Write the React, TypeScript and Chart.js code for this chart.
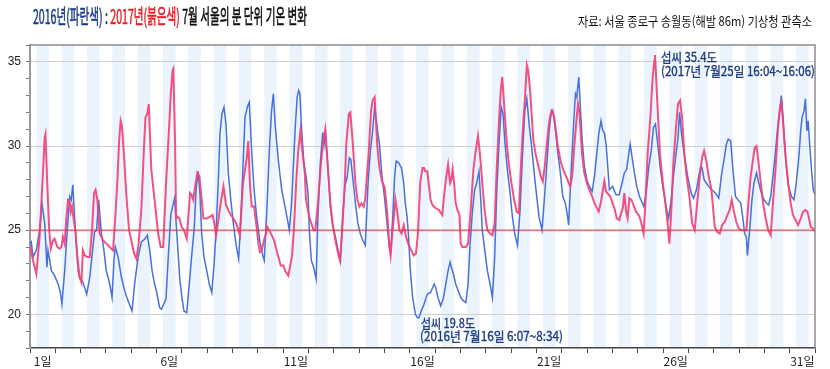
import React, { useEffect, useLayoutEffect, useRef } from 'react';
import { Chart, registerables } from 'chart.js';

Chart.register(...registerables);

// time in days since 1 July 00:00, temperature in °C
const t2016 = [
  0.00, 0.05, 0.12, 0.25, 0.38, 0.47, 0.58, 0.67, 0.71, 0.78, 0.84, 0.97, 1.11, 1.20, 1.26, 1.37, 1.47, 1.57, 1.63, 1.69,
  1.76, 1.83, 1.90, 1.96, 2.09, 2.24, 2.36, 2.49, 2.55, 2.63, 2.71, 2.82, 2.92, 3.01, 3.15, 3.24, 3.32, 3.37, 3.48, 3.61,
  3.74, 3.87, 4.03, 4.13, 4.27, 4.40, 4.55, 4.63, 4.73, 4.82, 4.92, 4.99, 5.12, 5.19, 5.37, 5.46, 5.56, 5.63, 5.71, 5.79,
  5.86, 5.92, 6.00, 6.08, 6.19, 6.29, 6.38, 6.48, 6.56, 6.64, 6.71, 6.78, 6.87, 6.98, 7.08, 7.18, 7.27, 7.35, 7.44, 7.50,
  7.58, 7.66, 7.74, 7.83, 7.93, 8.03, 8.14, 8.24, 8.33, 8.43, 8.49, 8.58, 8.66, 8.76, 8.85, 8.95, 9.08, 9.19, 9.25, 9.35,
  9.45, 9.54, 9.61, 9.69, 9.81, 9.94, 10.07, 10.17, 10.24, 10.33, 10.47, 10.55, 10.61, 10.66, 10.72, 10.81, 10.90, 10.98, 11.03, 11.11,
  11.20, 11.30, 11.37, 11.47, 11.56, 11.61, 11.66, 11.77, 11.86, 11.95, 12.06, 12.17, 12.26, 12.35, 12.43, 12.52, 12.61, 12.67, 12.74, 12.85,
  12.95, 13.04, 13.14, 13.24, 13.35, 13.44, 13.53, 13.61, 13.71, 13.80, 13.90, 14.01, 14.10, 14.19, 14.24, 14.32, 14.40, 14.46, 14.56, 14.67,
  14.76, 14.82, 14.89, 14.95, 15.02, 15.11, 15.22, 15.30, 15.36, 15.45, 15.56, 15.69, 15.82, 15.96, 16.02, 16.11, 16.22, 16.33, 16.42, 16.51,
  16.59, 16.64, 16.72, 16.81, 16.91, 17.01, 17.12, 17.21, 17.30, 17.38, 17.47, 17.56, 17.64, 17.73, 17.80, 17.86, 17.96, 18.06, 18.17, 18.26,
  18.35, 18.43, 18.52, 18.61, 18.68, 18.75, 18.85, 18.96, 19.05, 19.14, 19.25, 19.35, 19.45, 19.54, 19.62, 19.71, 19.80, 19.91, 20.01, 20.10,
  20.22, 20.30, 20.41, 20.50, 20.59, 20.67, 20.76, 20.84, 20.93, 21.04, 21.14, 21.23, 21.27, 21.37, 21.46, 21.54, 21.59, 21.67, 21.72, 21.80,
  21.89, 21.99, 22.09, 22.20, 22.29, 22.38, 22.46, 22.55, 22.62, 22.68, 22.75, 22.81, 22.88, 23.01, 23.14, 23.27, 23.38, 23.47, 23.56, 23.70,
  23.78, 23.87, 23.96, 24.07, 24.24, 24.33, 24.44, 24.53, 24.62, 24.70, 24.79, 24.88, 24.99, 25.12, 25.22, 25.32, 25.41, 25.51, 25.59, 25.65,
  25.71, 25.78, 25.88, 25.97, 26.11, 26.20, 26.32, 26.41, 26.49, 26.54, 26.62, 26.71, 26.80, 26.91, 27.01, 27.11, 27.20, 27.30, 27.41, 27.50,
  27.57, 27.67, 27.76, 27.86, 27.96, 28.07, 28.16, 28.22, 28.29, 28.33, 28.42, 28.51, 28.59, 28.69, 28.78, 28.88, 28.99, 29.09, 29.17, 29.25,
  29.34, 29.44, 29.54, 29.62, 29.67, 29.74, 29.80, 29.88, 29.96, 30.07, 30.17, 30.26, 30.36, 30.44, 30.49, 30.57, 30.62, 30.68, 30.73, 30.79,
  30.86, 30.93, 31.00,
];
const v2016 = [
  24.2, 24.3, 23.4, 23.8, 25.0, 26.6, 25.4, 22.8, 23.8, 23.2, 22.6, 22.3, 21.8, 21.3, 20.6, 22.6, 25.0, 27.0, 26.8, 27.7,
  25.8, 24.1, 22.6, 22.2, 21.9, 21.2, 22.2, 24.1, 24.9, 25.0, 26.8, 24.8, 23.8, 22.6, 21.8, 21.0, 23.3, 24.0, 23.4, 22.2,
  21.4, 20.8, 20.2, 21.8, 23.4, 24.3, 24.5, 24.7, 23.8, 22.6, 21.8, 21.4, 20.4, 20.3, 20.9, 23.4, 25.9, 26.4, 26.9, 25.0,
  23.4, 22.0, 21.0, 20.2, 20.1, 21.8, 23.4, 25.0, 27.4, 28.5, 27.2, 24.8, 23.4, 22.6, 21.8, 21.3, 23.0, 25.0, 28.1, 30.7,
  31.9, 32.3, 31.3, 28.4, 26.8, 25.4, 24.1, 23.3, 25.8, 29.5, 31.7, 32.3, 32.6, 29.5, 27.4, 25.8, 24.3, 23.5, 23.2, 26.1,
  29.7, 32.1, 33.1, 31.1, 29.1, 27.4, 26.4, 25.6, 25.0, 26.6, 31.0, 32.9, 33.3, 33.1, 31.1, 29.1, 28.2, 27.2, 25.0, 23.2,
  22.8, 22.1, 25.8, 29.1, 30.8, 30.1, 30.9, 28.6, 26.4, 25.3, 24.6, 23.8, 23.2, 25.8, 27.6, 28.1, 29.3, 29.2, 28.2, 26.6,
  25.4, 24.8, 24.4, 24.1, 27.8, 29.7, 30.9, 32.3, 31.1, 30.1, 28.2, 26.8, 25.4, 24.0, 23.7, 25.6, 28.2, 29.1, 29.0, 28.7,
  27.8, 26.6, 25.8, 24.6, 22.6, 21.0, 20.0, 19.8, 19.8, 20.2, 20.6, 21.2, 21.3, 21.8, 21.6, 21.0, 20.5, 21.0, 21.8, 22.6,
  23.1, 22.8, 22.4, 21.8, 21.4, 21.0, 20.8, 20.7, 21.8, 24.2, 26.1, 27.4, 27.8, 28.5, 26.8, 25.0, 23.8, 22.6, 21.8, 21.0,
  23.4, 27.2, 30.1, 32.3, 31.9, 30.3, 28.6, 27.2, 25.8, 24.8, 24.1, 26.1, 29.5, 32.1, 32.8, 31.3, 30.1, 28.4, 27.0, 25.8,
  25.0, 26.6, 28.9, 30.9, 32.1, 31.9, 30.8, 29.6, 28.6, 27.0, 26.6, 25.8, 25.3, 28.5, 31.1, 33.1, 32.9, 34.1, 32.7, 30.5,
  28.8, 28.0, 27.6, 27.3, 28.2, 29.5, 30.7, 31.5, 30.9, 30.8, 30.1, 28.9, 27.4, 27.6, 27.1, 27.1, 27.8, 28.4, 28.6, 30.1,
  29.3, 28.4, 27.6, 27.0, 26.4, 27.2, 28.8, 29.7, 31.1, 31.3, 30.1, 28.8, 27.6, 26.4, 25.7, 26.8, 28.2, 29.5, 30.5, 32.0,
  31.0, 30.1, 29.1, 28.2, 27.2, 26.9, 27.4, 28.2, 28.8, 28.7, 28.0, 27.8, 27.6, 27.4, 27.3, 27.1, 26.9, 28.2, 29.2, 30.1,
  30.4, 30.3, 28.6, 27.0, 26.8, 26.6, 25.6, 24.8, 24.6, 23.5, 25.0, 26.8, 27.8, 28.4, 27.8, 27.2, 26.8, 26.6, 26.5, 27.0,
  28.2, 29.7, 31.3, 32.3, 33.0, 31.7, 30.1, 28.6, 27.6, 27.0, 26.8, 27.8, 29.3, 31.0, 31.7, 32.1, 32.8, 30.9, 31.5, 30.1,
  28.6, 27.4, 27.1,
];

const t2017 = [
  0.00, 0.12, 0.25, 0.38, 0.47, 0.58, 0.61, 0.68, 0.76, 0.82, 0.91, 0.97, 1.08, 1.17, 1.24, 1.30, 1.37, 1.43, 1.50, 1.57,
  1.61, 1.66, 1.71, 1.79, 1.87, 1.96, 2.03, 2.09, 2.16, 2.26, 2.36, 2.45, 2.53, 2.59, 2.66, 2.75, 2.88, 3.01, 3.15, 3.28,
  3.37, 3.45, 3.52, 3.58, 3.63, 3.71, 3.80, 3.91, 4.00, 4.11, 4.20, 4.29, 4.40, 4.50, 4.56, 4.63, 4.69, 4.79, 4.92, 5.06,
  5.16, 5.26, 5.38, 5.50, 5.56, 5.63, 5.66, 5.73, 5.77, 5.82, 5.90, 5.99, 6.08, 6.19, 6.32, 6.38, 6.45, 6.52, 6.61, 6.69,
  6.78, 6.85, 6.98, 7.11, 7.21, 7.28, 7.35, 7.44, 7.53, 7.64, 7.74, 7.83, 7.93, 8.03, 8.14, 8.23, 8.29, 8.40, 8.49, 8.56,
  8.62, 8.69, 8.76, 8.85, 8.95, 9.02, 9.08, 9.15, 9.24, 9.32, 9.37, 9.48, 9.64, 9.72, 9.81, 9.90, 10.01, 10.07, 10.20, 10.29,
  10.35, 10.42, 10.51, 10.59, 10.68, 10.77, 10.85, 10.90, 11.01, 11.11, 11.20, 11.27, 11.37, 11.47, 11.56, 11.66, 11.77, 11.86, 11.95, 12.06,
  12.17, 12.24, 12.32, 12.42, 12.49, 12.59, 12.65, 12.74, 12.85, 12.93, 13.01, 13.09, 13.18, 13.24, 13.37, 13.47, 13.53, 13.61, 13.71, 13.80,
  13.90, 14.01, 14.10, 14.19, 14.24, 14.32, 14.43, 14.51, 14.59, 14.67, 14.76, 14.85, 14.96, 15.06, 15.15, 15.24, 15.32, 15.41, 15.50, 15.56,
  15.61, 15.69, 15.74, 15.82, 15.89, 16.02, 16.15, 16.28, 16.35, 16.43, 16.51, 16.59, 16.64, 16.69, 16.75, 16.81, 16.88, 16.96, 17.01, 17.08,
  17.21, 17.30, 17.40, 17.51, 17.60, 17.69, 17.77, 17.87, 17.96, 18.06, 18.17, 18.26, 18.35, 18.43, 18.52, 18.59, 18.65, 18.72, 18.83, 18.92,
  19.01, 19.12, 19.22, 19.31, 19.38, 19.46, 19.54, 19.62, 19.67, 19.75, 19.80, 19.88, 19.97, 20.06, 20.17, 20.25, 20.33, 20.41, 20.49, 20.56,
  20.64, 20.72, 20.80, 20.84, 20.97, 21.06, 21.17, 21.33, 21.41, 21.50, 21.59, 21.64, 21.70, 21.80, 21.89, 21.99, 22.09, 22.20, 22.29, 22.46,
  22.55, 22.68, 22.75, 22.91, 23.08, 23.17, 23.27, 23.34, 23.41, 23.47, 23.54, 23.60, 23.67, 23.75, 23.83, 23.93, 24.04, 24.13, 24.23, 24.30,
  24.39, 24.49, 24.59, 24.66, 24.68, 24.72, 24.79, 24.88, 24.99, 25.09, 25.18, 25.25, 25.32, 25.41, 25.51, 25.59, 25.67, 25.75, 25.84, 25.93,
  26.04, 26.15, 26.25, 26.36, 26.45, 26.54, 26.62, 26.71, 26.80, 26.91, 26.97, 27.04, 27.14, 27.24, 27.33, 27.44, 27.54, 27.63, 27.71, 27.80,
  27.89, 27.99, 28.09, 28.29, 28.38, 28.46, 28.56, 28.62, 28.69, 28.75, 28.86, 28.95, 29.04, 29.15, 29.25, 29.34, 29.44, 29.54, 29.62, 29.67,
  29.74, 29.83, 29.94, 30.04, 30.13, 30.23, 30.33, 30.44, 30.53, 30.62, 30.70, 30.75, 30.83, 30.92, 31.00,
];
const v2017 = [
  24.1, 23.2, 22.4, 24.6, 27.2, 30.5, 30.7, 27.8, 25.0, 23.9, 24.4, 24.5, 24.0, 23.9, 24.0, 24.6, 24.2, 25.6, 26.8, 26.7,
  26.1, 26.4, 25.8, 25.0, 23.4, 22.2, 21.9, 23.8, 23.5, 23.4, 23.4, 25.0, 27.2, 27.4, 26.8, 24.8, 24.4, 24.2, 24.0, 23.8,
  25.8, 27.9, 30.3, 31.5, 31.2, 29.5, 27.2, 25.0, 24.4, 23.6, 23.3, 24.2, 26.3, 29.9, 31.7, 31.9, 32.5, 28.6, 26.8, 24.8,
  24.0, 24.0, 28.0, 31.3, 33.1, 34.5, 34.6, 30.1, 25.7, 25.8, 25.7, 25.2, 25.0, 24.5, 27.2, 27.1, 26.8, 27.6, 28.4, 28.2,
  26.8, 25.7, 25.7, 25.8, 25.9, 25.4, 24.7, 25.6, 26.6, 27.6, 26.5, 26.2, 25.9, 25.7, 25.4, 25.0, 24.7, 27.6, 28.6, 29.3,
  30.3, 27.6, 26.4, 26.4, 25.2, 24.2, 23.7, 23.8, 24.4, 24.8, 25.2, 24.9, 24.4, 23.9, 23.4, 22.9, 22.9, 22.6, 22.3, 23.0,
  23.5, 25.0, 27.8, 29.7, 30.9, 29.5, 28.4, 26.8, 25.9, 25.4, 25.0, 25.0, 26.6, 28.6, 30.1, 31.0, 28.6, 26.6, 25.4, 24.4,
  23.6, 23.2, 24.8, 27.4, 30.1, 31.9, 32.0, 30.3, 27.8, 26.8, 26.4, 26.6, 26.4, 26.9, 29.5, 32.1, 32.7, 32.9, 30.1, 28.7,
  27.9, 27.5, 26.1, 24.1, 23.5, 25.0, 26.8, 26.0, 25.0, 24.8, 25.3, 24.6, 24.1, 23.8, 23.5, 23.6, 24.8, 27.8, 28.7, 28.7,
  28.5, 28.5, 27.8, 26.8, 26.5, 26.3, 26.2, 25.9, 27.0, 28.1, 28.9, 27.8, 28.0, 28.6, 27.8, 26.6, 26.2, 25.9, 24.2, 24.0,
  24.0, 24.2, 26.1, 28.6, 29.7, 30.6, 29.5, 27.6, 26.1, 25.0, 24.8, 24.7, 25.4, 28.6, 31.5, 33.3, 34.1, 32.5, 30.1, 28.8,
  27.8, 26.8, 26.1, 26.0, 28.6, 30.9, 32.7, 34.8, 34.5, 33.3, 32.1, 30.3, 29.5, 28.9, 28.2, 27.9, 28.8, 30.1, 31.3, 31.9,
  32.1, 31.5, 30.5, 30.0, 29.0, 28.6, 28.2, 27.6, 28.2, 30.1, 31.7, 32.5, 32.0, 29.5, 28.4, 27.8, 27.4, 27.0, 26.6, 26.1,
  26.7, 27.9, 27.3, 27.0, 26.3, 25.7, 25.6, 26.0, 26.3, 27.2, 26.1, 25.7, 26.9, 26.8, 26.5, 26.1, 25.9, 25.5, 24.8, 26.5,
  29.5, 31.5, 34.1, 35.1, 35.4, 34.3, 32.1, 29.5, 27.8, 26.6, 25.4, 24.2, 26.0, 29.1, 31.1, 32.5, 32.7, 31.7, 29.5, 28.2,
  27.0, 25.4, 25.0, 26.8, 28.2, 29.3, 29.7, 29.1, 28.2, 27.4, 26.4, 25.2, 24.9, 24.8, 25.3, 25.5, 25.9, 26.2, 26.8, 26.1,
  25.5, 25.1, 25.0, 25.0, 26.8, 28.2, 29.3, 29.9, 30.0, 29.3, 27.8, 26.6, 25.8, 25.0, 24.7, 26.6, 28.6, 31.1, 32.3, 32.6,
  31.4, 29.5, 27.8, 26.6, 25.9, 25.6, 25.3, 25.7, 26.1, 26.2, 26.1, 25.8, 25.2, 25.1, 24.9,
];

const DAYS = 31;
const Y_MIN = 18;
const Y_MAX = 36;
const REF_TEMP = 25;
const labelDays = [1, 6, 11, 16, 21, 26, 31];

const BLUE = 'rgba(62,104,220,0.95)';
const PINK = 'rgba(242,66,118,0.92)';
const NAVY = '#1c3b7e';
const KFONT = '"Noto Sans CJK KR", "Noto Sans", sans-serif';

const toPts = (ts: number[], vs: number[]) => ts.map((t, i) => ({ x: t, y: vs[i] }));

const framePlugin = {
  id: 'frame',
  beforeDraw(chart: any) {
    const { ctx, chartArea: a, scales } = chart;
    const xs = scales.x;
    ctx.save();
    ctx.fillStyle = 'rgba(218,234,252,0.55)';
    for (let d = 0; d < DAYS; d++) {
      const x0 = xs.getPixelForValue(d + 0.25);
      const x1 = xs.getPixelForValue(d + 0.75);
      ctx.fillRect(x0, a.top, x1 - x0, a.bottom - a.top);
    }
    ctx.restore();
  },
  afterDraw(chart: any) {
    const { ctx, chartArea: a } = chart;
    ctx.save();
    ctx.strokeStyle = '#8a8a8a';
    ctx.lineWidth = 1.5;
    ctx.beginPath();
    ctx.moveTo(a.left, a.top);
    ctx.lineTo(a.right, a.top);
    ctx.lineTo(a.right, a.bottom);
    ctx.stroke();
    ctx.restore();
  },
};

function FitText(props: { left: number; top: number; width: number; size: number; color?: string; weight?: any; stroke?: number; children: any }) {
  const ref = useRef<HTMLDivElement>(null);
  useLayoutEffect(() => {
    const fit = () => {
      const el = ref.current;
      if (!el) return;
      el.style.transform = 'none';
      const w = el.getBoundingClientRect().width;
      if (w > 0) el.style.transform = `scaleX(${props.width / w})`;
    };
    fit();
    (document as any).fonts?.ready?.then(fit);
  });
  const style: any = {
    position: 'absolute',
    left: props.left,
    top: props.top,
    fontSize: props.size,
    lineHeight: props.size + 'px',
    whiteSpace: 'nowrap',
    transformOrigin: '0 0',
    fontFamily: KFONT,
    color: props.color || '#111',
    fontWeight: props.weight || 'normal',
  };
  if (props.stroke) style.WebkitTextStroke = `${props.stroke}px currentColor`;
  return (
    <div ref={ref} style={style}>
      {props.children}
    </div>
  );
}

export default function App() {
  const canvasRef = useRef<HTMLCanvasElement>(null);

  useEffect(() => {
    document.body.style.margin = '0';
    const canvas = canvasRef.current;
    if (!canvas) return;
    const chart = new Chart(canvas, {
      type: 'line',
      data: {
        datasets: [
          {
            label: '25도',
            data: [{ x: 0, y: REF_TEMP }, { x: DAYS, y: REF_TEMP }],
            borderColor: 'rgba(214,60,70,0.55)',
            borderWidth: 2,
            pointRadius: 0,
          },
          {
            label: '2017',
            data: toPts(t2017, v2017),
            borderColor: PINK,
            borderWidth: 2,
            pointRadius: 0,
            tension: 0,
          },
          {
            label: '2016',
            data: toPts(t2016, v2016),
            borderColor: BLUE,
            borderWidth: 1.5,
            pointRadius: 0,
            tension: 0,
          },
        ],
      },
      options: {
        animation: false,
        responsive: false,
        devicePixelRatio: 1,
        layout: { padding: { top: 45, right: 15, left: 0, bottom: 0 } },
        plugins: { legend: { display: false }, tooltip: { enabled: false }, title: { display: false } },
        scales: {
          x: {
            type: 'linear',
            min: 0,
            max: DAYS,
            afterFit: (s: any) => { s.height = 21; },
            ticks: {
              stepSize: 0.5,
              autoSkip: false,
              maxRotation: 0,
              padding: 1,
              color: '#222',
              font: { family: KFONT, size: 12 },
              callback: (val: any) => {
                const v = Number(val);
                if (Number.isInteger(v)) return '';
                const d = Math.round(v + 0.5);
                return labelDays.includes(d) ? `${d}일` : '';
              },
            },
            grid: {
              drawOnChartArea: false,
              drawTicks: true,
              tickLength: 5,
              color: (c: any) => (Number.isInteger(c.tick?.value) ? '#444' : 'rgba(0,0,0,0)'),
              tickColor: (c: any) => (Number.isInteger(c.tick?.value) ? '#444' : 'rgba(0,0,0,0)'),
            },
            border: { display: true, color: '#444', width: 1.5 },
          },
          y: {
            type: 'linear',
            min: Y_MIN,
            max: Y_MAX,
            afterFit: (s: any) => { s.width = 30; },
            ticks: {
              stepSize: 1,
              autoSkip: false,
              padding: 5,
              color: '#222',
              font: { family: '"Liberation Sans", Arial, sans-serif', size: 12 },
              callback: (val: any) => (Number(val) % 5 === 0 ? String(val) : ''),
            },
            grid: {
              drawTicks: true,
              tickLength: 4,
              color: (c: any) => (c.tick && c.tick.value % 5 === 0 ? '#cfcfcf' : 'rgba(0,0,0,0)'),
              tickColor: '#777',
              lineWidth: 1,
            },
            border: { display: true, color: '#9a9a9a', width: 2 },
          },
        },
      } as any,
      plugins: [framePlugin],
    });
    return () => chart.destroy();
  }, []);

  return (
    <div style={{ position: 'absolute', left: 0, top: 0, width: 830, height: 369, overflow: 'hidden', background: '#fff' }}>
      <canvas ref={canvasRef} width={830} height={369} style={{ position: 'absolute', left: 0, top: 0 }} />
      <FitText left={33} top={6} width={274} size={20} stroke={0.6}>
        <span style={{ color: '#1d3e8c' }}>2016년(파란색)</span>
        <span style={{ color: '#1d2a4a' }}> : </span>
        <span style={{ color: '#ee1b24' }}>2017년(붉은색)</span>
        <span style={{ color: '#111' }}> 7월 서울의 분 단위 기온 변화</span>
      </FitText>
      <FitText left={578} top={14} width={234} size={13} color="#111">
        자료: 서울 종로구 송월동(해발 86m) 기상청 관측소
      </FitText>
      <FitText left={661} top={50} width={56} size={13} color={NAVY} stroke={0.35}>
        섭씨 35.4도
      </FitText>
      <FitText left={661} top={64} width={154} size={13} color={NAVY} stroke={0.35}>
        (2017년 7월25일 16:04~16:06)
      </FitText>
      <FitText left={421} top={316} width={54} size={13} color={NAVY} stroke={0.35}>
        섭씨 19.8도
      </FitText>
      <FitText left={420} top={329} width={143} size={13} color={NAVY} stroke={0.35}>
        (2016년 7월16일 6:07~8:34)
      </FitText>
    </div>
  );
}
